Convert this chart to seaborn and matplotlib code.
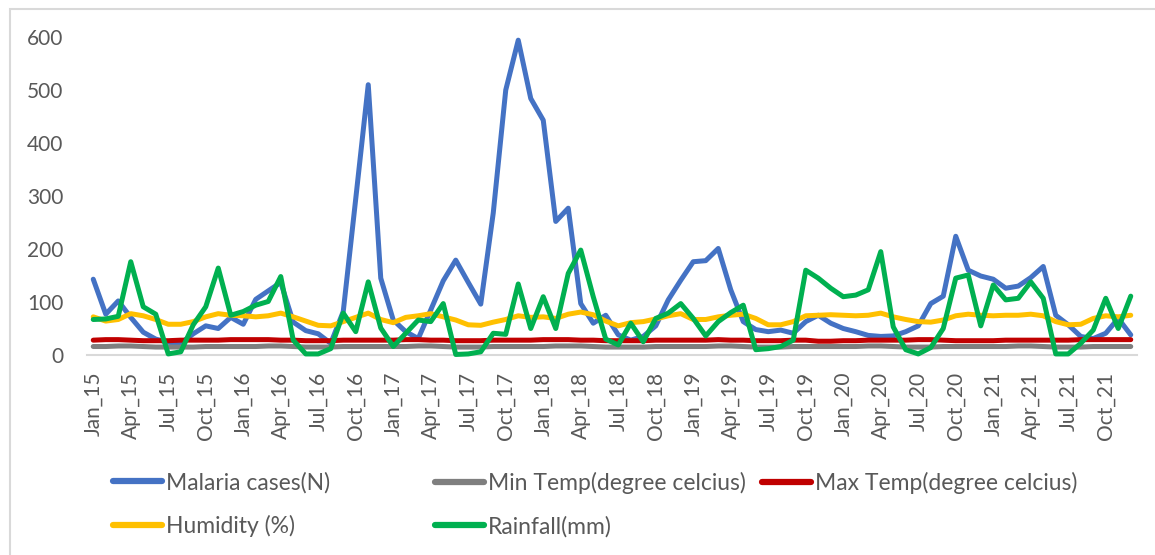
import matplotlib
matplotlib.use("Agg")
import matplotlib.pyplot as plt
import seaborn as sns
import numpy as np
import pandas as pd
from matplotlib.lines import Line2D
from matplotlib.patches import Rectangle

# ---------------------------------------------------------
# data (monthly, Jan 2015 - Dec 2021)
# ---------------------------------------------------------
month_names = ["Jan", "Feb", "Mar", "Apr", "May", "Jun",
               "Jul", "Aug", "Sep", "Oct", "Nov", "Dec"]
years = ["15", "16", "17", "18", "19", "20", "21"]
months = [f"{m}_{y}" for y in years for m in month_names]

malaria = [143, 77, 102, 71, 43, 30, 24, 22, 40, 55, 50, 71,
           58, 105, 121, 137, 62, 46, 40, 22, 82, 295, 510, 145,
           66, 44, 31, 85, 140, 179, 137, 96, 268, 500, 594, 484,
           443, 252, 277, 97, 60, 75, 38, 28, 35, 55, 104, 141,
           176, 178, 201, 123, 63, 48, 44, 47, 41, 63, 75, 60,
           50, 44, 37, 35, 36, 44, 55, 97, 111, 224, 160, 149,
           143, 126, 130, 146, 167, 75, 57, 35, 31, 41, 69, 38]

min_temp = [16, 16, 17, 17, 16, 15, 15, 15, 15, 16, 16, 16,
            16, 16, 17, 17, 16, 15, 15, 15, 16, 16, 16, 16,
            16, 16, 17, 17, 16, 15, 15, 15, 16, 16, 16, 16,
            16, 17, 17, 17, 16, 15, 15, 15, 15, 16, 16, 16,
            16, 16, 17, 17, 16, 15, 15, 15, 16, 16, 16, 16,
            16, 16, 17, 17, 16, 15, 15, 15, 16, 16, 16, 16,
            16, 16, 17, 17, 16, 15, 15, 15, 16, 16, 16, 16]

max_temp = [28, 29, 29, 28, 27, 27, 27, 28, 28, 28, 28, 29,
            29, 29, 29, 28, 28, 27, 27, 27, 28, 28, 28, 28,
            28, 29, 29, 28, 28, 27, 27, 27, 28, 28, 28, 28,
            29, 29, 29, 28, 28, 27, 27, 27, 27, 28, 28, 28,
            28, 28, 29, 28, 28, 27, 27, 27, 28, 28, 26, 26,
            27, 27, 28, 28, 28, 28, 29, 29, 28, 27, 27, 27,
            27, 28, 28, 28, 28, 28, 28, 29, 29, 29, 29, 29]

humidity = [72, 64, 67, 78, 74, 67, 58, 58, 63, 72, 78, 75,
            74, 72, 74, 79, 72, 64, 56, 55, 63, 71, 79, 67,
            61, 71, 74, 78, 72, 66, 57, 56, 62, 67, 74, 71,
            72, 69, 77, 81, 76, 64, 55, 61, 63, 68, 74, 78,
            67, 67, 72, 75, 77, 69, 57, 57, 63, 74, 75, 76,
            75, 74, 75, 79, 72, 67, 63, 62, 66, 74, 77, 75,
            74, 75, 75, 77, 74, 63, 57, 58, 69, 74, 72, 75]

rainfall = [67, 68, 73, 176, 91, 77, 2, 6, 57, 91, 164, 75,
            82, 94, 101, 148, 28, 2, 2, 12, 79, 44, 138, 51,
            16, 41, 66, 63, 97, 1, 2, 6, 41, 39, 134, 50,
            110, 50, 154, 198, 110, 30, 19, 60, 25, 69, 79, 97,
            69, 36, 63, 80, 94, 10, 12, 16, 28, 160, 145, 126,
            110, 113, 123, 195, 53, 10, 2, 14, 50, 145, 151, 55,
            132, 104, 107, 138, 107, 2, 2, 22, 47, 107, 50, 111]

series_names = ["Malaria cases(N)", "Min Temp(degree celcius)",
                "Max Temp(degree celcius)", "Humidity (%)", "Rainfall(mm)"]
series_values = [malaria, min_temp, max_temp, humidity, rainfall]
series_colors = ["#4472C4", "#7F7F7F", "#C00000", "#FFC000", "#00B050"]

# ---------------------------------------------------------
# plot
# ---------------------------------------------------------
sns.set_style("white")
plt.rcParams["font.family"] = ["Lato", "DejaVu Sans"]
text_color = "#595959"

fig = plt.figure(figsize=(11.55, 5.55), dpi=100)
ax = fig.add_axes([87 / 1155, 1 - 355 / 555, 1050 / 1155, 318 / 555])

idx = np.arange(len(months))
for name, vals, col in zip(series_names, series_values, series_colors):
    df = pd.DataFrame({"month": idx, "value": vals})
    sns.lineplot(data=df, x="month", y="value", color=col, linewidth=3.6,
                 ax=ax, clip_on=False, solid_joinstyle="round")

ax.set_xlim(-0.5, len(months) - 0.5)
ax.set_ylim(0, 600)
ax.set_yticks(range(0, 601, 100))
ax.set_xticks(idx[::3])
ax.set_xticklabels(months[::3], rotation=90, va="top", ha="center")
ax.set_xlabel("")
ax.set_ylabel("")
ax.tick_params(axis="x", length=0, pad=12, labelsize=15, colors=text_color)
ax.tick_params(axis="y", length=0, pad=17, labelsize=15, colors=text_color)

for s in ["top", "right", "left"]:
    ax.spines[s].set_visible(False)
ax.spines["bottom"].set_color("#D9D9D9")
ax.spines["bottom"].set_linewidth(1.5)
ax.spines["bottom"].set_zorder(0)

# legend: Excel style, rows filled left to right
handles = [Line2D([], [], color=c, lw=4.5, solid_capstyle="round") for c in series_colors]
columns = [([0, 3], 113), ([1, 4], 435), ([2], 762)]
for members, xpix in columns:
    fig.legend([handles[i] for i in members], [series_names[i] for i in members],
               loc="upper left", bbox_to_anchor=(xpix / 1155, 1 - 472 / 555),
               frameon=False, fontsize=16.5, labelcolor=text_color,
               handlelength=2.15, handletextpad=0.15, labelspacing=0.95,
               borderpad=0, borderaxespad=0)

# chart border
fig.patches.append(Rectangle((10 / 1155, -0.1), 1.2, 1 - 9 / 555 + 0.1,
                             transform=fig.transFigure, fill=False,
                             edgecolor="#D9D9D9", lw=1.5))

plt.savefig("out.png", dpi=100)
